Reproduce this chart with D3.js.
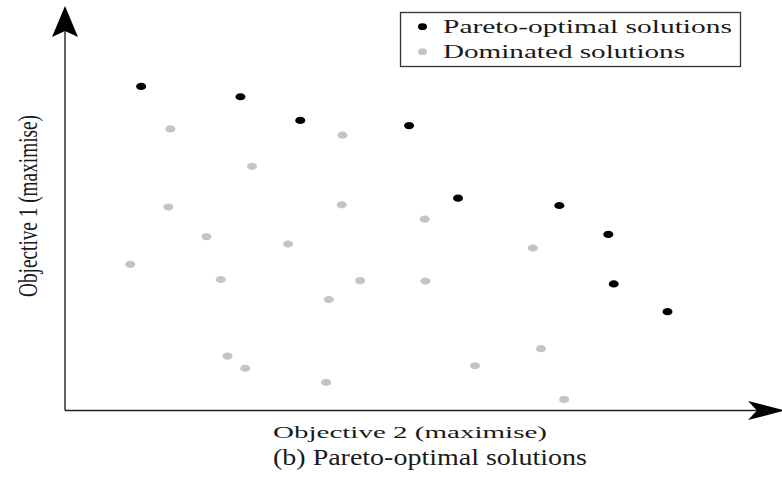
<!DOCTYPE html>
<html>
<head>
    <meta charset="utf-8">
    <script src="https://d3js.org/d3.v7.min.js"></script>
    <style>
        body {
            margin: 0;
            background: #fff;
            font-family: "Liberation Serif", "DejaVu Serif", serif;
        }

        .axis-line {
            stroke: #222;
            stroke-width: 1.4;
            fill: none;
        }

        .arrow {
            fill: #000;
        }

        .label {
            fill: #1a1a1a;
        }
    </style>
</head>
<body>
    <svg width="782" height="484"></svg>
    <script>
        // Objective 2 (x) and Objective 1 (y) on a 0-100 scale
        const paretoX = [11.2, 25.8, 34.6, 50.6, 57.8, 72.7, 79.9, 80.7, 88.6];
        const paretoY = [87.6, 84.8, 78.4, 77.0, 57.4, 55.4, 47.6, 34.2, 26.7];

        const dominatedX = [15.5, 27.5, 15.2, 40.8, 40.7, 52.9, 20.8, 32.8, 68.8, 9.6,
            22.9, 43.4, 53.0, 38.8, 23.9, 26.5, 70.0, 60.3, 38.4, 73.4];
        const dominatedY = [76.1, 66.0, 55.0, 74.4, 55.6, 51.7, 47.0, 45.0, 43.9, 39.5,
            35.4, 35.1, 35.0, 30.0, 14.7, 11.4, 16.7, 12.1, 7.6, 3.0];

        const legendLabels = ["Pareto-optimal solutions", "Dominated solutions"];
        const legendColors = ["#000000", "#c4c4c4"];

        const originX = 65, originY = 410.5;

        const xScale = d3.scaleLinear().domain([0, 100]).range([originX, 745]);
        const yScale = d3.scaleLinear().domain([0, 100]).range([originY, 40.5]);

        const svg = d3.select("svg");

        // axes with arrow heads
        svg.append("line").attr("class", "axis-line")
            .attr("x1", originX).attr("y1", originY)
            .attr("x2", originX).attr("y2", 20);
        svg.append("line").attr("class", "axis-line")
            .attr("x1", originX).attr("y1", originY)
            .attr("x2", 765).attr("y2", originY);

        svg.append("path").attr("class", "arrow")
            .attr("d", `M${originX},6 L${originX + 13},37 L${originX},31 L${originX - 13},37 Z`);
        svg.append("path").attr("class", "arrow")
            .attr("d", `M785,${originY} L748,${originY - 9.5} L757,${originY} L748,${originY + 9.5} Z`);

        // points
        const dominated = dominatedX.map((x, i) => ({ x: x, y: dominatedY[i] }));
        const pareto = paretoX.map((x, i) => ({ x: x, y: paretoY[i] }));

        svg.append("g")
            .selectAll("ellipse")
            .data(dominated)
            .join("ellipse")
            .attr("cx", d => xScale(d.x))
            .attr("cy", d => yScale(d.y))
            .attr("rx", 5)
            .attr("ry", 3.6)
            .attr("fill", legendColors[1]);

        svg.append("g")
            .selectAll("ellipse")
            .data(pareto)
            .join("ellipse")
            .attr("cx", d => xScale(d.x))
            .attr("cy", d => yScale(d.y))
            .attr("rx", 5)
            .attr("ry", 3.6)
            .attr("fill", legendColors[0]);

        // axis labels (the source picture is stretched sideways, so the glyphs are too)
        svg.append("text").attr("class", "label")
            .attr("x", 273).attr("y", 438)
            .attr("textLength", 274).attr("lengthAdjust", "spacingAndGlyphs")
            .style("font-size", "16px")
            .text("Objective 2 (maximise)");

        svg.append("text").attr("class", "label")
            .attr("transform", "translate(36.5, 297) scale(1.45, 1) rotate(-90)")
            .attr("textLength", 182).attr("lengthAdjust", "spacingAndGlyphs")
            .style("font-size", "19px")
            .text("Objective 1 (maximise)");

        // caption
        svg.append("text").attr("class", "label")
            .attr("x", 273).attr("y", 465)
            .attr("textLength", 314).attr("lengthAdjust", "spacingAndGlyphs")
            .style("font-size", "22.5px")
            .text("(b) Pareto-optimal solutions");

        // legend
        svg.append("rect")
            .attr("x", 400.5).attr("y", 12.5)
            .attr("width", 340).attr("height", 54)
            .attr("fill", "#fff")
            .attr("stroke", "#333")
            .attr("stroke-width", 1.3);

        const legendWidths = [289, 242];
        legendLabels.forEach((name, i) => {
            const cy = 26.7 + i * 25;
            svg.append("ellipse")
                .attr("cx", 422.5).attr("cy", cy)
                .attr("rx", 4.5).attr("ry", 3.4)
                .attr("fill", legendColors[i]);
            svg.append("text").attr("class", "label")
                .attr("x", 443).attr("y", cy + 5.8)
                .attr("textLength", legendWidths[i]).attr("lengthAdjust", "spacingAndGlyphs")
                .style("font-size", "18px")
                .text(name);
        });
    </script>
</body>
</html>
